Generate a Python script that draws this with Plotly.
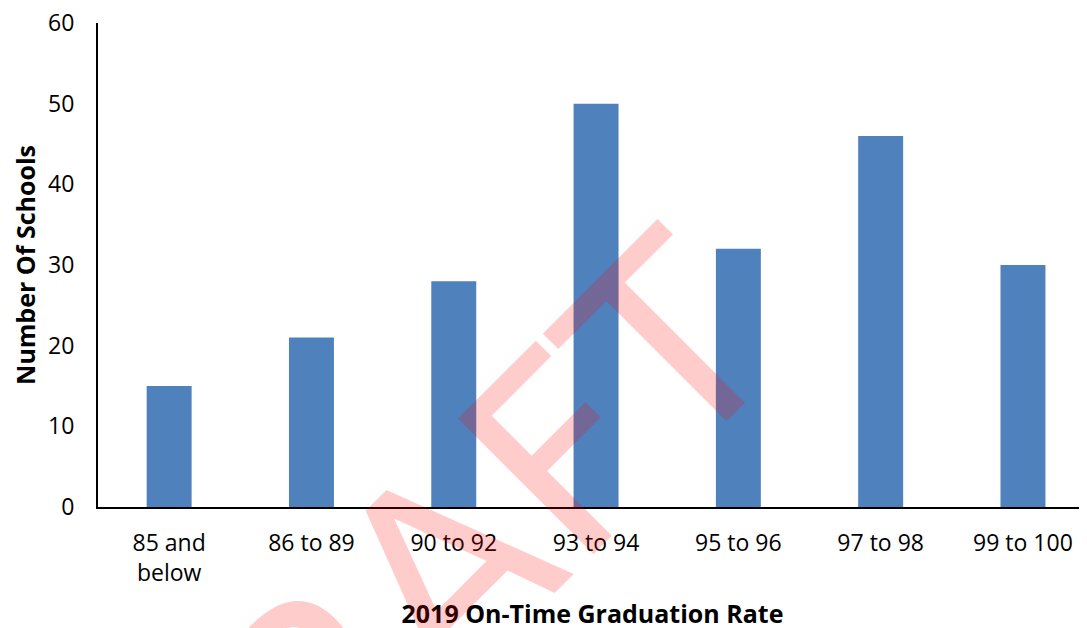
import plotly.graph_objects as go

categories = ["85 and<br>below", "86 to 89", "90 to 92", "93 to 94", "95 to 96", "97 to 98", "99 to 100"]
schools = [15, 21, 28, 50, 32, 46, 30]
y_ticks = [0, 10, 20, 30, 40, 50, 60]

FONT = "Open Sans"

fig = go.Figure()
fig.add_trace(go.Bar(
    x=list(range(len(categories))),
    y=schools,
    width=0.316,
    marker=dict(color="#4F81BD", line=dict(width=0)),
    hoverinfo="skip",
))

fig.update_layout(
    width=1087, height=628,
    margin=dict(l=90, r=8, t=15, b=129, autoexpand=False),
    paper_bgcolor="white", plot_bgcolor="white",
    showlegend=False,
    font=dict(family=FONT, size=23, color="black"),
    xaxis=dict(
        tickmode="array",
        tickvals=list(range(len(categories))),
        ticktext=categories,
        range=[-0.5, 6.45],
        automargin=False,
        ticklabeloverflow="allow",
        showline=True, linecolor="black", linewidth=2,
        showgrid=False, zeroline=False, ticks="",
        tickfont=dict(family=FONT, size=23, color="black"),
        ticklabelstandoff=14,
        title=dict(text="<b>2019 On-Time Graduation Rate</b>",
                   font=dict(family=FONT, size=25, color="black"), standoff=19),
    ),
    yaxis=dict(
        tickmode="array", tickvals=y_ticks,
        range=[0, 60],
        automargin=False,
        ticklabeloverflow="allow",
        showline=True, linecolor="black", linewidth=2,
        showgrid=False, zeroline=False, ticks="",
        tickfont=dict(family=FONT, size=23, color="black"),
        ticklabelstandoff=17,
        title=dict(text="<b>Number Of Schools</b>",
                   font=dict(family=FONT, size=25, color="black"), standoff=5),
    ),
)

fig.add_annotation(
    text="DRAFT", xref="paper", yref="paper",
    x=0.3306, y=-0.1798, xanchor="center", yanchor="middle",
    showarrow=False, textangle=-45,
    font=dict(family="DejaVu Sans", size=263, color="rgba(255,0,0,0.2)"),
)

fig.write_html("out.html")
